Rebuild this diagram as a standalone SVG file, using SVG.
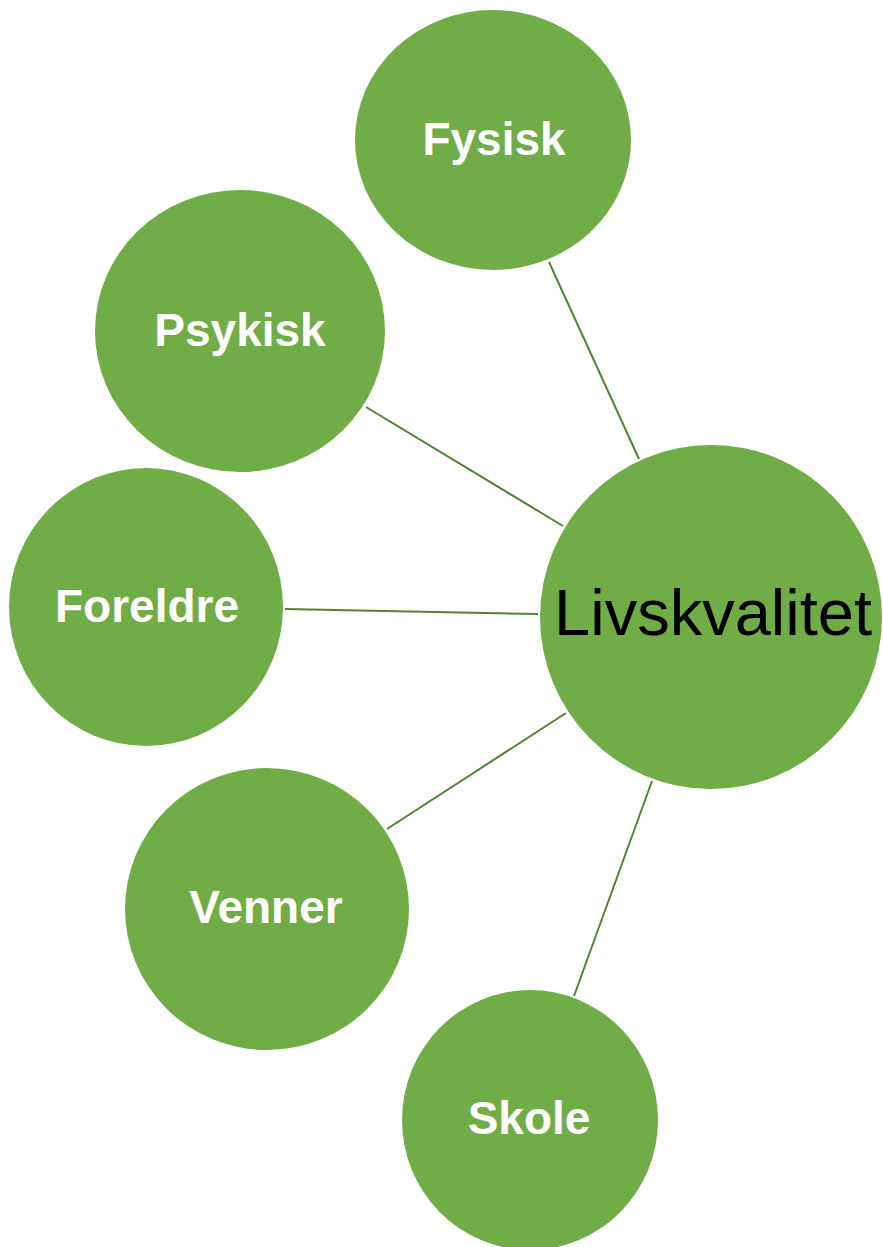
<svg xmlns="http://www.w3.org/2000/svg" width="883" height="1247" viewBox="0 0 883 1247">
<style>
.n{fill:#70AD47;}
.t{font-family:"Liberation Sans",Arial,sans-serif;font-size:46px;font-weight:bold;fill:#FFFFFF;text-anchor:middle;}
.c{font-family:"Liberation Sans",Arial,sans-serif;font-size:65px;fill:#000000;text-anchor:middle;}
.e{stroke:#548235;stroke-width:2;fill:none;}
</style>
<rect width="883" height="1247" fill="#FFFFFF"/>
<g id="connectors">
<line class="e" x1="549" y1="262" x2="639" y2="459"/>
<line class="e" x1="366" y1="407" x2="563" y2="526"/>
<line class="e" x1="285" y1="609" x2="538" y2="614"/>
<line class="e" x1="387" y1="829" x2="566" y2="713"/>
<line class="e" x1="574" y1="996" x2="652" y2="781"/>
</g>
<g id="fysisk"><ellipse class="n" cx="493" cy="140" rx="138" ry="130"/><text class="t" x="494" y="155">Fysisk</text></g>
<g id="psykisk"><ellipse class="n" cx="240" cy="331" rx="145" ry="141"/><text class="t" x="240" y="346">Psykisk</text></g>
<g id="foreldre"><ellipse class="n" cx="146" cy="607" rx="137" ry="139"/><text class="t" x="147" y="622">Foreldre</text></g>
<g id="venner"><ellipse class="n" cx="267" cy="909" rx="142" ry="141"/><text class="t" x="266" y="923">Venner</text></g>
<g id="skole"><ellipse class="n" cx="530" cy="1120" rx="128" ry="130"/><text class="t" x="529" y="1134">Skole</text></g>
<g id="livskvalitet"><ellipse class="n" cx="711" cy="617" rx="171" ry="172"/><text class="c" x="713" y="635">Livskvalitet</text></g>
</svg>
